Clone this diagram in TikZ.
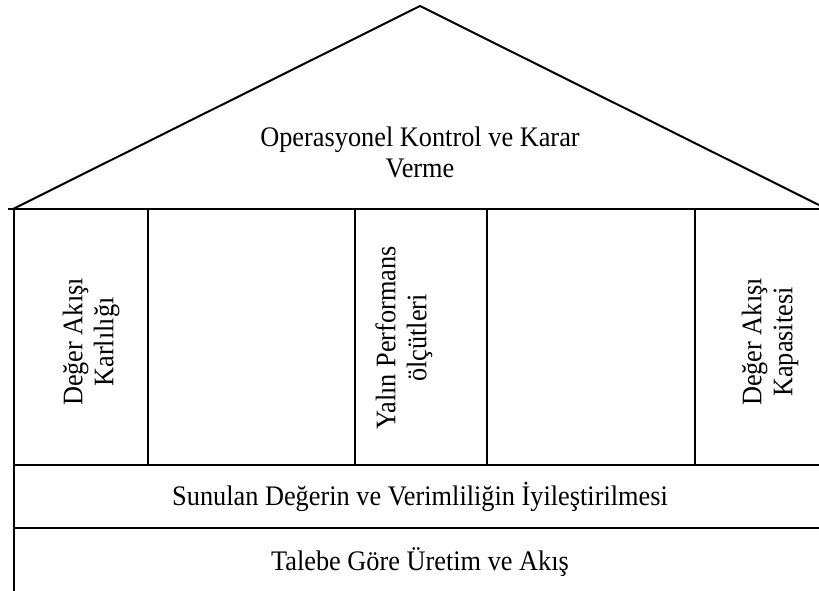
\documentclass[tikz,border=0pt]{standalone}
\usepackage{fontspec}
\setmainfont[FakeStretch=0.93]{Liberation Serif}
\begin{document}
\begin{tikzpicture}[x=1pt,y=-1pt,line width=2pt,
  label/.style={font=\fontsize{28.3}{31}\selectfont,align=center,inner sep=0pt},
  pillar/.style={label,rotate=90}]
  \useasboundingbox (0,0) rectangle (819,591);
  \clip (0,0) rectangle (819,591);
  % roof
  \coordinate (apex) at (420,6);
  \coordinate (eaveL) at (13,209);
  \coordinate (eaveR) at (827,209);
  \draw (eaveL) -- (apex) -- (eaveR);
  % beam under the roof
  \coordinate (beamL) at (8,209);
  \coordinate (beamR) at (830,209);
  \draw (beamL) -- (beamR);
  % outer wall
  \coordinate (wallT) at (14,209);
  \coordinate (wallB) at (14,600);
  \draw (wallT) -- (wallB);
  % pillar dividers
  \foreach \px in {148,355,487,695}{
    \draw (\px,209) -- (\px,465);
  }
  % foundation rows
  \draw (14,465) -- (830,465);
  \draw (14,528) -- (830,528);
  % texts
  \node[label] (roof) at (420,152) {Operasyonel Kontrol ve Karar\\Verme};
  \node[pillar] (p1) at (91,342) {Değer Akışı\\Karlılığı};
  \node[pillar] (p3) at (404,338) {Yalın Performans\\ölçütleri};
  \node[pillar] (p5) at (770,342) {Değer Akışı\\Kapasitesi};
  \node[label] (r1) at (420,497) {Sunulan Değerin ve Verimliliğin İyileştirilmesi};
  \node[label] (r2) at (420,562) {Talebe Göre Üretim ve Akış};
\end{tikzpicture}
\end{document}
